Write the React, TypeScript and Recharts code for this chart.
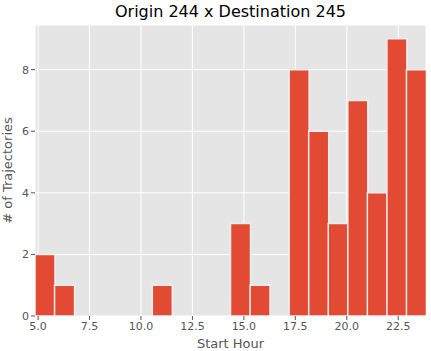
import React from 'react';
import { BarChart, Bar, XAxis, YAxis, CartesianGrid } from 'recharts';

const binCenters = [5.325, 6.275, 7.225, 8.175, 9.125, 10.075, 11.025, 11.975, 12.925, 13.875, 14.825, 15.775, 16.725, 17.675, 18.625, 19.575, 20.525, 21.475, 22.425, 23.375];
const counts = [2, 1, 0, 0, 0, 0, 1, 0, 0, 0, 3, 1, 0, 8, 6, 3, 7, 4, 9, 8];
const xTicks = [5.0, 7.5, 10.0, 12.5, 15.0, 17.5, 20.0, 22.5];
const yTicks = [0, 2, 4, 6, 8];
const title = 'Origin 244 x Destination 245';
const xLabel = 'Start Hour';
const yLabel = '# of Trajectories';

const data = binCenters.map((c, i) => ({ center: c, count: counts[i] }));

const FONT = "'DejaVu Sans', sans-serif";
const TEXT = '#555555';

export default function App() {
  return (
    <div style={{ position: 'absolute', left: 0, top: 0, width: 431, height: 351, background: '#fff', fontFamily: FONT }}>
      <div style={{ position: 'absolute', left: 35, width: 391, top: 2, textAlign: 'center', fontSize: 16, color: '#000', lineHeight: '20px' }}>
        {title}
      </div>
      <BarChart
        width={431}
        height={351}
        data={data}
        margin={{ top: 25, right: 5, bottom: 0, left: 0 }}
        barCategoryGap={0}
        barGap={0}
        style={{ fontFamily: FONT }}
      >
        <CartesianGrid stroke="#ffffff" strokeWidth={1} fill="#E5E5E5" fillOpacity={1} />
        <XAxis
          dataKey="center"
          type="number"
          domain={[4.85, 23.85]}
          ticks={xTicks}
          allowDataOverflow
          tickFormatter={(v: number) => v.toFixed(1)}
          axisLine={false}
          tickLine={{ stroke: TEXT }}
          tickSize={4}
          tick={{ fill: TEXT, fontSize: 11 }}
          height={35}
          label={{ value: xLabel, position: 'insideBottom', offset: 3, fill: TEXT, fontSize: 13 }}
        />
        <YAxis
          type="number"
          domain={[0, 9.45]}
          ticks={yTicks}
          allowDataOverflow
          axisLine={false}
          tickLine={{ stroke: TEXT }}
          tickSize={4}
          tick={{ fill: TEXT, fontSize: 11 }}
          width={35}
          label={{ value: yLabel, angle: -90, position: 'insideLeft', offset: 7, fill: TEXT, fontSize: 13, style: { textAnchor: 'middle' } }}
        />
        <Bar dataKey="count" fill="#E24A33" stroke="#EEEEEE" strokeWidth={1.5} isAnimationActive={false} />
      </BarChart>
    </div>
  );
}
